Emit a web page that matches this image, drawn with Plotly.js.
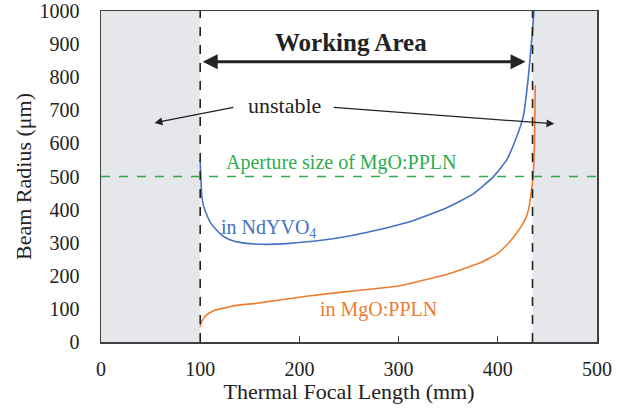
<!DOCTYPE html>
<html>
<head>
<meta charset="utf-8">
<script src="https://cdn.plot.ly/plotly-3.0.1.min.js"></script>
<style>html,body{margin:0;padding:0;background:#fff;}#chart{width:627px;height:413px;}</style>
</head>
<body>
<div id="chart"></div>
<script>
// Thermal focal length (mm) vs beam radius (µm)
const ndyvoX = [100, 100.6, 101.5, 103, 106.5, 110, 115, 123, 130, 140, 155, 167, 190, 224, 258, 281, 300, 315, 348, 375, 395.5, 409, 419, 425.7, 430.8, 434.2, 436.5];
const ndyvoY = [550, 500, 445, 415, 385, 362, 343, 320, 309, 301, 296, 295, 298, 308, 325, 340, 354, 367, 405, 447, 499, 550, 620, 681, 801, 915, 1000];
const pplnX = [100, 101, 103, 106.5, 110, 115, 123, 135, 157, 180, 209, 250, 300, 349, 383, 400, 412, 420, 425, 429, 432, 434, 435.5, 437, 437.8];
const pplnY = [46, 58, 70, 82, 89, 96, 102, 110, 117, 127, 139, 153, 169, 205, 240, 268, 303, 333, 356, 380, 415, 459, 500, 600, 776];
const stableLimits = [100, 435];   // working-area boundaries (mm)
const apertureSize = 500;          // µm
const xRange = [0, 500];
const yRange = [0, 1000];
const xTicks = [0, 100, 200, 300, 400, 500];
const yTicks = [0, 100, 200, 300, 400, 500, 600, 700, 800, 900, 1000];

const FONT = "Liberation Serif";
const BLUE = "#4472c4", ORANGE = "#ed7d31", GREEN = "#2eab4f", GREY = "#e5e7ea";

const traces = [
  {x: ndyvoX, y: ndyvoY, mode: "lines", line: {color: BLUE, width: 1.6, shape: "spline", smoothing: 0.4}, hoverinfo: "skip"},
  {x: pplnX, y: pplnY, mode: "lines", line: {color: ORANGE, width: 1.6, shape: "spline", smoothing: 0.4}, hoverinfo: "skip"}
];

const shapes = [
  {type: "rect", xref: "x", yref: "y", x0: xRange[0], x1: stableLimits[0], y0: yRange[0], y1: yRange[1], fillcolor: GREY, line: {width: 0}, layer: "below"},
  {type: "rect", xref: "x", yref: "y", x0: stableLimits[1], x1: xRange[1], y0: yRange[0], y1: yRange[1], fillcolor: GREY, line: {width: 0}, layer: "below"},
  {type: "line", xref: "x", yref: "y", x0: stableLimits[0], x1: stableLimits[0], y0: yRange[0], y1: yRange[1], line: {color: "#222", width: 1.6, dash: "dash"}},
  {type: "line", xref: "x", yref: "y", x0: stableLimits[1], x1: stableLimits[1], y0: yRange[0], y1: yRange[1], line: {color: "#222", width: 1.6, dash: "dash"}},
  {type: "line", xref: "x", yref: "y", x0: xRange[0], x1: xRange[1], y0: apertureSize, y1: apertureSize, line: {color: GREEN, width: 1.6, dash: "dash"}}
];

const annotations = [
  {x: 252, y: 906, xref: "x", yref: "y", text: "<b>Working Area</b>", showarrow: false, font: {family: FONT, size: 25, color: "#222"}},
  {x: 428, y: 847, xref: "x", yref: "y", ax: 101, ay: 847, axref: "x", ayref: "y", text: "", showarrow: true, arrowside: "end+start", arrowhead: 2, startarrowhead: 2, arrowsize: 1, startarrowsize: 1, arrowwidth: 3, arrowcolor: "#222"},
  {x: 185, y: 716, xref: "x", yref: "y", text: "unstable", showarrow: false, font: {family: FONT, size: 22, color: "#222"}},
  {x: 54, y: 662, xref: "x", yref: "y", ax: 135, ay: 710, axref: "x", ayref: "y", text: "", showarrow: true, arrowhead: 2, arrowsize: 1.2, arrowwidth: 1.3, arrowcolor: "#222"},
  {x: 457, y: 659, xref: "x", yref: "y", ax: 233, ay: 709, axref: "x", ayref: "y", text: "", showarrow: true, arrowhead: 2, arrowsize: 1.2, arrowwidth: 1.3, arrowcolor: "#222"},
  {x: 242, y: 541, xref: "x", yref: "y", text: "Aperture size of MgO:PPLN", showarrow: false, font: {family: FONT, size: 20, color: GREEN}},
  {x: 169, y: 344, xref: "x", yref: "y", text: "in NdYVO<sub>4</sub>", showarrow: false, font: {family: FONT, size: 20, color: BLUE}},
  {x: 280, y: 97, xref: "x", yref: "y", text: "in MgO:PPLN", showarrow: false, font: {family: FONT, size: 20, color: ORANGE}}
];

const layout = {
  width: 627, height: 413,
  margin: {l: 101, r: 30, t: 11, b: 71, pad: 0},
  paper_bgcolor: "#fff", plot_bgcolor: "#fff",
  showlegend: false,
  font: {family: FONT, size: 20, color: "#222"},
  xaxis: {
    range: xRange, tickvals: xTicks, ticktext: xTicks.map(String),
    showgrid: false, zeroline: false, showline: true, mirror: true,
    linecolor: "#404040", linewidth: 1.5,
    ticks: "inside", ticklen: 6, tickwidth: 1.3, tickcolor: "#404040",
    ticklabelstandoff: 8,
    tickfont: {family: FONT, size: 20, color: "#222"},
    title: {text: "Thermal Focal Length (mm)", font: {family: FONT, size: 22, color: "#222"}, standoff: 4}
  },
  yaxis: {
    range: yRange, tickvals: yTicks, ticktext: yTicks.map(String),
    showgrid: false, zeroline: false, showline: true, mirror: true,
    linecolor: "#404040", linewidth: 1.5,
    ticks: "",
    ticklabelstandoff: 16,
    tickfont: {family: FONT, size: 20, color: "#222"},
    title: {text: "Beam Radius (μm)", font: {family: FONT, size: 22, color: "#222"}, standoff: 2}
  },
  shapes: shapes,
  annotations: annotations
};

Plotly.newPlot("chart", traces, layout, {staticPlot: true, displayModeBar: false});
</script>
</body>
</html>
